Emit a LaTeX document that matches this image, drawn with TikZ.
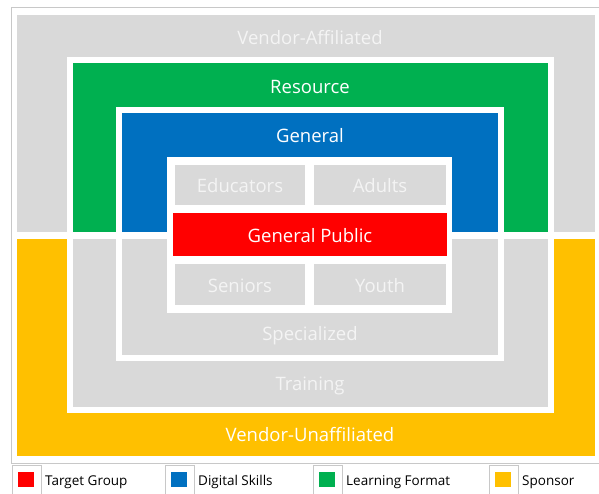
\documentclass[tikz,border=0pt]{standalone}
\usepackage{fontspec}
\setmainfont{Open Sans}
\usetikzlibrary{positioning}
\definecolor{tgtred}{HTML}{FF0000}
\definecolor{skillblue}{HTML}{0070C0}
\definecolor{fmtgreen}{HTML}{00B050}
\definecolor{sponsoryellow}{HTML}{FFC000}
\definecolor{offgrey}{HTML}{D9D9D9}
\definecolor{offtext}{HTML}{F4F4F4}
\definecolor{framegrey}{HTML}{C8C8C8}
\tikzset{
  lbl/.style={anchor=base,text=white,inner sep=0pt,font=\fontsize{18.5}{22}\selectfont},
  dimlbl/.style={lbl,text=offtext},
  keytext/.style={anchor=base west,inner sep=0pt,font=\fontsize{13.5}{16}\selectfont},
  keybox/.style={draw=framegrey,line width=0.8pt}
}

\begin{document}
\begin{tikzpicture}[x=1pt,y=-1pt]
\useasboundingbox (0,0) rectangle (599,493);
\draw[framegrey,line width=0.8pt] (599,7.5) -- (11,7.5) -- (11,463) -- (599,463);
\fill[offgrey] (17,15) rectangle (595,232);
\fill[sponsoryellow] (17,239) rectangle (595,456);
\fill[white] (67,57) rectangle (554,413);
\fill[fmtgreen] (73,63) rectangle (548,232);
\fill[offgrey] (73,239) rectangle (548,407);
\fill[white] (116,107) rectangle (504,361);
\fill[skillblue] (122,113) rectangle (498,232);
\fill[offgrey] (122,239) rectangle (498,355);
\fill[white] (167,157) rectangle (452,313);
\fill[offgrey] (175,165) rectangle (305,205);
\fill[offgrey] (314,165) rectangle (446,205);
\fill[tgtred] (173,213) rectangle (447,256);
\fill[offgrey] (175,264) rectangle (305,305);
\fill[offgrey] (314,264) rectangle (446,305);

\node[dimlbl] (affil) at (310,44) {Vendor-Affiliated};
\node[lbl] (resource) at (310,93) {Resource};
\node[lbl] (general) at (310,142) {General};
\node[dimlbl] (educ) at (240,192) {Educators};
\node[dimlbl] (adults) at (380,192) {Adults};
\node[lbl] (public) at (310,242) {General Public};
\node[dimlbl] (seniors) at (240,292) {Seniors};
\node[dimlbl] (youth) at (380,292) {Youth};
\node[dimlbl] (special) at (310,340) {Specialized};
\node[dimlbl] (training) at (310,390) {Training};
\node[lbl] (unaffil) at (310,441) {Vendor-Unaffiliated};

\foreach \x/\c/\t/\n in {12/tgtred/Target Group/tgt,165/skillblue/Digital Skills/skl,313/fmtgreen/Learning Format/fmt,489/sponsoryellow/Sponsor/spn}{
  \draw[keybox] (\x,494) |- (\x+29,465) -- (\x+29,494);
  \fill[\c] (\x+6,472) rectangle (\x+22,487);
  \node[keytext] (key-\n) at (\x+33,485) {\t};
}
\end{tikzpicture}
\end{document}
